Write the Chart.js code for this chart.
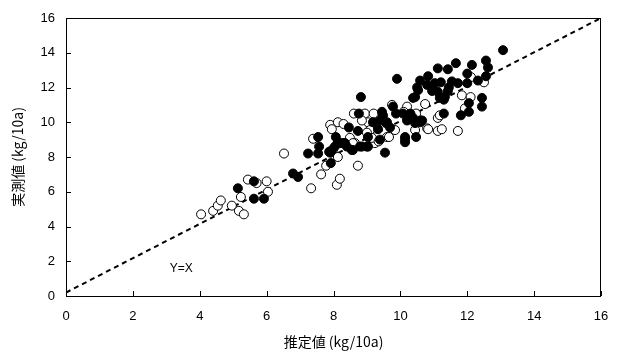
<!DOCTYPE html>
<html lang="ja">
<head>
<meta charset="UTF-8">
<title>推定値と実測値</title>
<script src="https://cdn.jsdelivr.net/npm/chart.js"></script>
<style>
  html, body { margin: 0; padding: 0; background: #fff; }
  #wrap { width: 618px; height: 360px; }
</style>
</head>
<body>
<div id="wrap"><canvas id="chart"></canvas></div>
<script>
// open circles: [estimated, measured]
const openX = [4.04, 4.4, 4.54, 4.63, 4.96, 5.17, 5.32, 5.23, 5.44, 5.7, 6.0, 6.04, 6.52, 7.33, 7.63, 7.78, 8.1, 8.19,
  7.39, 7.9, 7.95, 8.13, 7.98, 8.13, 8.73, 8.61, 8.94, 9.2, 9.03, 8.85, 8.49, 8.64, 9.09, 9.24, 9.15, 9.35, 9.6, 9.84,
  9.75, 10.2, 10.47, 10.74, 10.44, 10.8, 10.83, 11.12, 11.24, 11.72, 11.12, 11.18, 11.93, 11.84, 12.1, 12.11, 12.5,
  9.0, 8.58, 9.66, 8.3, 10.1];
const openY = [4.7, 4.9, 5.2, 5.5, 5.2, 4.9, 4.7, 5.7, 6.7, 6.5, 6.6, 6.0, 8.2, 6.2, 7.0, 7.5, 6.4, 6.75,
  9.05, 9.85, 9.6, 10.0, 8.4, 8.0, 7.5, 10.5, 10.5, 10.5, 10.0, 10.1, 9.1, 8.8, 9.55, 8.8, 9.1, 8.9, 9.15, 9.55,
  11.0, 10.9, 10.5, 11.05, 9.55, 9.65, 9.6, 9.5, 9.6, 9.5, 10.25, 10.4, 10.8, 11.55, 11.45, 12.6, 12.3,
  9.4, 8.8, 9.15, 9.9, 10.6];

// filled circles
const fillX = [5.14, 5.62, 5.62, 5.92, 6.79, 6.94, 7.24, 7.54, 7.57, 7.54, 7.92, 7.87, 7.95, 8.07, 8.2, 8.13, 8.28, 8.4,
  8.55, 8.79, 9.03, 7.9, 8.82, 8.76, 9.45, 9.48, 9.78, 9.87, 10.08, 10.3, 10.38, 10.6, 10.2, 10.44, 10.59, 10.44,
  8.46, 8.73, 9.18, 9.39, 9.6, 9.69, 9.33, 9.03, 9.39, 10.14, 10.14, 10.47, 9.54, 9.9, 10.5, 10.59, 10.83, 11.12,
  11.42, 11.66, 12.14, 12.56, 12.62, 12.56, 13.07, 11.54, 11.72, 11.21, 11.03, 10.95, 11.12, 11.45, 11.42, 12.0,
  12.0, 12.32, 10.53, 10.38, 10.8, 11.33, 11.18, 11.3, 12.44, 12.44, 12.05, 12.05, 11.81, 11.3, 10.65, 9.57, 10.14,
  8.04, 8.34, 8.58, 8.85, 9.0];
const fillY = [6.2, 6.6, 5.6, 5.6, 7.05, 6.85, 8.2, 9.15, 8.6, 8.2, 7.65, 8.3, 8.4, 9.15, 8.8, 8.85, 8.8, 8.6,
  8.4, 8.6, 8.6, 8.25, 11.45, 10.5, 10.6, 10.4, 10.9, 10.5, 10.5, 10.5, 10.25, 10.1, 10.1, 9.95, 10.0, 11.45,
  9.7, 9.5, 10.0, 10.1, 10.0, 9.7, 9.6, 9.15, 9.0, 9.15, 8.85, 9.15, 8.25, 12.5, 12.0, 12.4, 12.65, 13.1,
  13.05, 13.4, 13.3, 13.55, 13.15, 12.65, 14.15, 12.35, 12.25, 12.3, 12.25, 11.8, 11.75, 12.0, 11.8, 12.25,
  12.8, 12.4, 11.85, 11.4, 12.15, 11.45, 11.4, 11.3, 11.4, 10.9, 11.1, 10.6, 10.4, 10.5, 10.1, 9.95, 9.0,
  8.6, 8.8, 8.4, 8.6, 8.6];

// y = x reference line
const lineX = [0, 16];
const lineY = [0.2, 16];

const axisTicks = [0, 2, 4, 6, 8, 10, 12, 14, 16];

function pts(xs, ys) {
  return xs.map((x, i) => ({ x: x, y: ys[i] }));
}

// box frame, inward ticks and the Y=X note
const framePlugin = {
  id: 'frame',
  afterDraw(chart) {
    const { ctx, chartArea: a, scales } = chart;
    ctx.save();
    ctx.strokeStyle = '#000';
    ctx.lineWidth = 1;
    ctx.strokeRect(a.left + 0.5, a.top + 0.5, a.right - a.left - 1, a.bottom - a.top);
    ctx.beginPath();
    axisTicks.forEach(v => {
      const px = Math.round(scales.x.getPixelForValue(v)) + 0.5;
      ctx.moveTo(px, a.bottom);
      ctx.lineTo(px, a.bottom - 5);
      const py = Math.round(scales.y.getPixelForValue(v)) + 0.5;
      ctx.moveTo(a.left, py);
      ctx.lineTo(a.left + 5, py);
    });
    ctx.stroke();
    ctx.fillStyle = '#000';
    ctx.font = '12px "Liberation Sans", Arial, sans-serif';
    ctx.textBaseline = 'middle';
    ctx.fillText('Y=X', scales.x.getPixelForValue(3.1), scales.y.getPixelForValue(1.6));
    ctx.restore();
  }
};

const tickFont = { family: '"Liberation Sans", Arial, sans-serif', size: 13 };
const titleFont = { family: '"Noto Sans CJK JP", sans-serif', size: 14 };

new Chart(document.getElementById('chart'), {
  type: 'scatter',
  data: {
    datasets: [
      {
        type: 'line',
        data: pts(lineX, lineY),
        borderColor: '#000',
        borderWidth: 2,
        borderDash: [5, 4],
        pointRadius: 0,
        fill: false,
        order: 3
      },
      {
        data: pts(openX, openY),
        pointRadius: 4.5,
        pointBackgroundColor: '#fff',
        pointBorderColor: '#000',
        pointBorderWidth: 1,
        order: 2
      },
      {
        data: pts(fillX, fillY),
        pointRadius: 4.5,
        pointBackgroundColor: '#000',
        pointBorderColor: '#000',
        pointBorderWidth: 1,
        order: 1
      }
    ]
  },
  options: {
    responsive: true,
    maintainAspectRatio: false,
    animation: false,
    layout: { padding: { top: 18, right: 17, left: 5, bottom: 6 } },
    plugins: { legend: { display: false }, tooltip: { enabled: false } },
    scales: {
      x: {
        type: 'linear',
        min: 0, max: 16,
        afterBuildTicks: s => { s.ticks = axisTicks.map(v => ({ value: v })); },
        afterFit: s => { s.height = 58; s.paddingLeft = 0; s.paddingRight = 0; },
        grid: { display: false, drawTicks: false },
        border: { display: false },
        ticks: { padding: 13, color: '#000', font: tickFont, maxRotation: 0 },
        title: { display: true, text: '推定値 (kg/10a)', color: '#000', font: titleFont, padding: { top: 2 } }
      },
      y: {
        type: 'linear',
        min: 0, max: 16,
        afterBuildTicks: s => { s.ticks = axisTicks.map(v => ({ value: v })); },
        afterFit: s => { s.width = 61; s.paddingTop = 0; s.paddingBottom = 0; },
        grid: { display: false, drawTicks: false },
        border: { display: false },
        ticks: { padding: 11, color: '#000', font: tickFont },
        title: { display: true, text: '実測値 (kg/10a)', color: '#000', font: titleFont, padding: { bottom: 4 } }
      }
    }
  },
  plugins: [framePlugin]
});
</script>
</body>
</html>
